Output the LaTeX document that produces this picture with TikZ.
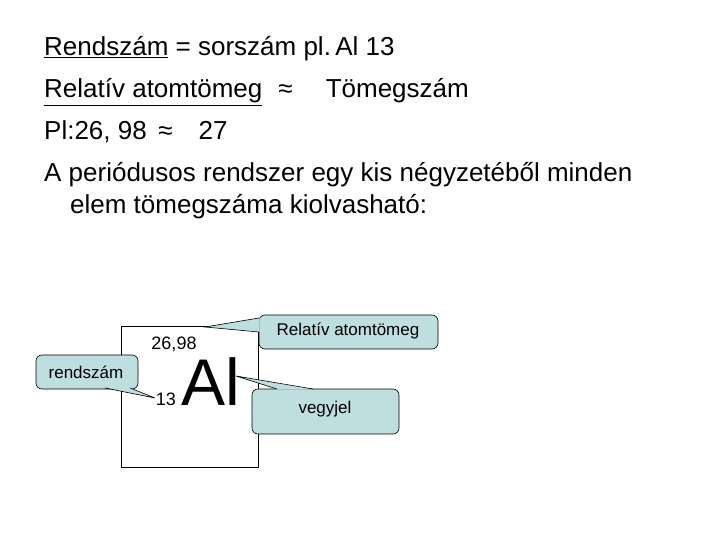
\documentclass[tikz,border=0pt]{standalone}
\usepackage{fontspec}
\setmainfont{Liberation Sans}
\begin{document}
\begin{tikzpicture}[x=1pt,y=-1pt,
  line/.style={font=\fontsize{26}{30}\selectfont,anchor=base west,inner sep=0pt},
  small/.style={font=\fontsize{18}{20}\selectfont,inner sep=0pt},
  call/.style={draw=black,fill=callfill,rounded corners=6pt,line width=0.6pt}]
\definecolor{callfill}{HTML}{BFDEDF}
\useasboundingbox (0,0) rectangle (720,540);
\node[line] (l1) at (44,56) {\underline{Rendszám} = sorszám pl.\,Al 13};
\node[line] (l2) at (44,98) {\underline{Relatív atomtömeg}\,\, ≈ \quad Tömegszám};
\node[line] (l3) at (44,140) {Pl:26, 98 \,≈\quad 27};
\node[line] (l4) at (44,182) {A periódusos rendszer egy kis négyzetéből minden};
\node[line] (l5) at (70,214) {elem tömegszáma kiolvasható:};
% element square
\draw[line width=0.6pt] (121,326) rectangle (258,467);
\node[small] (mass) at (174,344) {26,98};
\node[small] (z) at (166,399) {13};
\node[font=\fontsize{66}{70}\selectfont,inner sep=0pt] (al) at (211,382) {Al};
% callouts
\draw[call] (36,355) rectangle (138,389);
\node[small,font=\fontsize{17}{19}\selectfont] (rsz) at (86,372) {rendszám};
\coordinate (t1) at (155,398);
\fill[callfill] (105,387.5) -- (t1) -- (130,387.5) -- cycle;
\draw[line width=0.6pt] (105,388) -- (t1) -- (130,388);

\draw[call] (259,315) rectangle (438,349);
\node[small,font=\fontsize{17}{19}\selectfont] (ram) at (348,331) {Relatív atomtömeg};
\coordinate (t2) at (205,327);
\fill[callfill] (259.5,318) -- (t2) -- (259.5,332) -- cycle;
\draw[line width=0.6pt] (259,318) -- (t2) -- (259,332);

\draw[call] (252,389) rectangle (399,434);
\node[small,font=\fontsize{17}{19}\selectfont] (vj) at (325,409) {vegyjel};
\coordinate (t3) at (236,376);
\fill[callfill] (277,389.5) -- (t3) -- (313,389.5) -- cycle;
\draw[line width=0.6pt] (277,389) -- (t3) -- (313,389);
\end{tikzpicture}
\end{document}
